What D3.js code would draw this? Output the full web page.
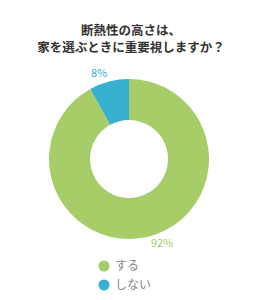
<!DOCTYPE html>
<html>
<head>
<meta charset="utf-8">
<script src="https://cdn.jsdelivr.net/npm/d3@7"></script>
<style>
  body { margin: 0; background: #fff; }
  svg { font-family: "Noto Sans CJK JP", sans-serif; }
</style>
</head>
<body>
<div id="chart"></div>
<script>
var titleLines = ["断熱性の高さは、", "家を選ぶときに重要視しますか？"];
var categories = ["する", "しない"];
var values = [92, 8];
var colors = ["#a6cd68", "#37afcf"];

var w = 260, h = 300;
var cx = 129, cy = 159;
var outerR = 80, innerR = 39;

var svg = d3.select("#chart").append("svg")
            .attr("width", w)
            .attr("height", h);

// title
svg.append("g").selectAll("text")
   .data(titleLines)
   .enter()
   .append("text")
   .attr("x", 131)
   .attr("y", function(d, i) { return 35 + i * 17; })
   .attr("text-anchor", "middle")
   .attr("font-size", 12.5)
   .attr("font-weight", "bold")
   .attr("fill", "#333")
   .text(function(d) { return d; });

var pie = d3.pie().sort(null).value(function(d) { return d; });
var arcs = pie(values);

var arc = d3.arc().innerRadius(innerR).outerRadius(outerR);

var g = svg.append("g").attr("transform", "translate(" + cx + "," + cy + ")");

g.selectAll("path")
 .data(arcs)
 .enter()
 .append("path")
 .attr("d", arc)
 .attr("fill", function(d, i) { return colors[i]; });

// percent labels just outside the ring
var labelR = 88;
g.selectAll("text")
 .data(arcs)
 .enter()
 .append("text")
 .attr("x", function(d) { var a = (d.startAngle + d.endAngle) / 2; return Math.sin(a) * labelR; })
 .attr("y", function(d) { var a = (d.startAngle + d.endAngle) / 2; return -Math.cos(a) * labelR; })
 .attr("text-anchor", function(d) { return (d.startAngle + d.endAngle) / 2 < Math.PI ? "start" : "end"; })
 .attr("dominant-baseline", "middle")
 .attr("font-size", 11)
 .attr("fill", function(d, i) { return colors[i]; })
 .text(function(d) { return d.data + "%"; });

// legend
var legend = svg.append("g").selectAll("g")
   .data(categories)
   .enter()
   .append("g")
   .attr("transform", function(d, i) { return "translate(104," + (266 + i * 19) + ")"; });

legend.append("circle")
      .attr("r", 5.5)
      .attr("fill", function(d, i) { return colors[i]; });

legend.append("text")
      .attr("x", 11)
      .attr("dy", "0.35em")
      .attr("font-size", 12)
      .attr("fill", "#888")
      .text(function(d) { return d; });
</script>
</body>
</html>
